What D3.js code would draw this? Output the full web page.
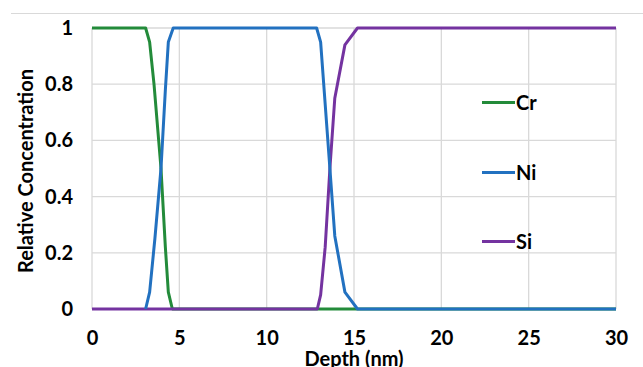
<!DOCTYPE html>
<html>
<head>
<meta charset="utf-8">
<script src="https://cdn.jsdelivr.net/npm/d3@7"></script>
<style>
  body { margin: 0; background: #fff; }
  text { font-family: Lato, "Open Sans", sans-serif; font-weight: bold; fill: #000; }
</style>
</head>
<body>
<svg id="chart" width="643" height="367"></svg>
<script>
// depth (nm) / relative concentration
var crDepth = [0, 3.07, 3.3, 3.55, 3.95, 4.2, 4.37, 4.6, 30];
var crConc  = [1, 1, 0.95, 0.8, 0.5, 0.22, 0.06, 0, 0];

var niDepth = [3.07, 3.3, 3.6, 3.95, 4.2, 4.37, 4.65, 12.86, 13.09, 13.62, 13.9, 14.48, 15.2, 30];
var niConc  = [0, 0.06, 0.25, 0.5, 0.78, 0.95, 1, 1, 0.95, 0.5, 0.26, 0.06, 0, 0];

var siDepth = [0, 12.9, 13.09, 13.35, 13.62, 13.9, 14.48, 15.2, 30];
var siConc  = [0, 0, 0.05, 0.22, 0.5, 0.75, 0.94, 1, 1];

var seriesNames = ['Cr', 'Ni', 'Si'];
var seriesColors = ['#238b3a', '#2271c0', '#7433a0'];
var xTicks = [0, 5, 10, 15, 20, 25, 30];
var yTicks = [0, 0.2, 0.4, 0.6, 0.8, 1];

var svg = d3.select('#chart');
// plot box in pixels (note: "top" is taken by window.top, so pTop etc.)
var pLeft = 92, pRight = 616, pTop = 28, pBottom = 309;
var fontSize = 20;

var x = d3.scaleLinear().domain([0, 30]).range([pLeft, pRight]);
var y = d3.scaleLinear().domain([0, 1]).range([pBottom, pTop]);

// outer border line of the chart area (top only visible)
svg.append('line')
  .attr('x1', 11).attr('x2', 643).attr('y1', 13.5).attr('y2', 13.5)
  .attr('stroke', '#d9d9d9').attr('stroke-width', 1);

// grid
var grid = svg.append('g');
grid.selectAll('.vg').data(xTicks).enter().append('line')
  .attr('x1', d => x(d)).attr('x2', d => x(d))
  .attr('y1', pTop).attr('y2', pBottom)
  .attr('stroke', '#d9d9d9').attr('stroke-width', 1.3);
grid.selectAll('.hg').data(yTicks).enter().append('line')
  .attr('x1', pLeft).attr('x2', pRight)
  .attr('y1', d => y(d)).attr('y2', d => y(d))
  .attr('stroke', '#d9d9d9').attr('stroke-width', 1.3);

// axes (labels only)
var xAxis = svg.append('g').attr('transform', 'translate(0,' + (pBottom + 22) + ')')
  .call(d3.axisBottom(x).tickValues(xTicks).tickSize(0).tickPadding(0).tickFormat(d3.format('d')));
xAxis.select('.domain').remove();
xAxis.selectAll('text').attr('font-size', fontSize).attr('dy', '0.71em')
  .style('font-family', 'Lato, sans-serif').style('font-weight', 'bold').attr('fill', '#000');

var yAxis = svg.append('g').attr('transform', 'translate(' + (pLeft - 19) + ',0)')
  .call(d3.axisLeft(y).tickValues(yTicks).tickSize(0).tickPadding(0)
    .tickFormat(d => d === 0 || d === 1 ? d3.format('d')(d) : d3.format('.1f')(d)));
yAxis.select('.domain').remove();
yAxis.selectAll('text').attr('font-size', fontSize)
  .style('font-family', 'Lato, sans-serif').style('font-weight', 'bold').attr('fill', '#000');

// lines
var series = [
  { depth: crDepth, conc: crConc },
  { depth: niDepth, conc: niConc },
  { depth: siDepth, conc: siConc }
];
var line = d3.line().x(d => x(d[0])).y(d => y(d[1]));

// drawing order Cr, Si, Ni (as in the reference where lines overlap)
[0, 2, 1].forEach(function (i) {
  var pts = d3.zip(series[i].depth, series[i].conc);
  svg.append('path')
    .datum(pts)
    .attr('d', line)
    .attr('fill', 'none')
    .attr('stroke', seriesColors[i])
    .attr('stroke-width', 3)
    .attr('stroke-linejoin', 'round');
});

// legend
var legendY = [102.5, 172.5, 241.5];
var legend = svg.selectAll('.leg').data(seriesNames).enter().append('g')
  .attr('transform', (d, i) => 'translate(482,' + legendY[i] + ')');
legend.append('line')
  .attr('x1', 0).attr('x2', 33).attr('y1', 0).attr('y2', 0)
  .attr('stroke', (d, i) => seriesColors[i]).attr('stroke-width', 3);
legend.append('text')
  .attr('x', 34).attr('y', 0).attr('dy', '0.36em')
  .attr('font-size', fontSize)
  .text(d => d);

// axis titles
svg.append('text')
  .attr('x', (pLeft + pRight) / 2).attr('y', 366)
  .attr('text-anchor', 'middle').attr('font-size', fontSize)
  .text('Depth (nm)');

svg.append('text')
  .attr('transform', 'translate(33,171) rotate(-90)')
  .attr('text-anchor', 'middle').attr('font-size', fontSize)
  .text('Relative Concentration');
</script>
</body>
</html>
